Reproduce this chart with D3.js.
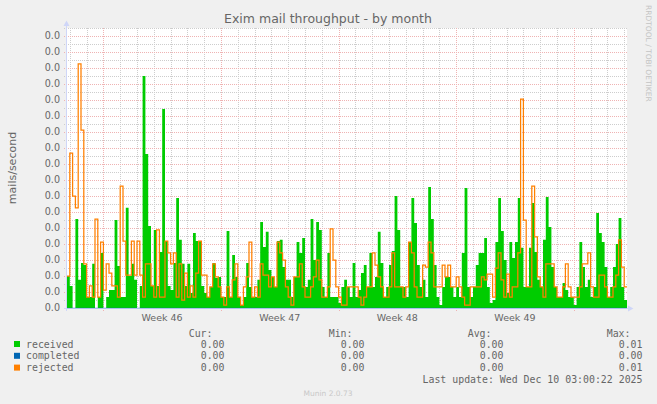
<!DOCTYPE html>
<html><head><meta charset="utf-8">
<script src="https://cdn.jsdelivr.net/npm/d3@7"></script>
<style>
body{margin:0;background:#F0F0F0}
svg{display:block}
</style>
</head><body>
<svg id="chart" width="657" height="404"></svg>
<script>
// ---- data (mails/second), one value per 4-hour bin ----
const startTime = Date.UTC(2025, 10, 7, 20, 8);
const endTime = Date.UTC(2025, 11, 11, 4, 8);
const binMs = 4 * 3600 * 1000;

const received = [
0.00100,0.00069,0,0.00278,0.00088,0.00141,0.00134,0.00034,0.00034,0.00138,
0,0.00034,0.00172,0,0.00034,0.00056,0.00056,0.00275,0.00131,0.00034,
0.00034,0.00313,0.00100,0.00138,0.00088,0,0.00069,0.00725,0.00481,0.00256,
0.00069,0.00244,0.00069,0.00175,0.00622,0.00209,0.00069,0.00056,0.00141,0.00344,
0.00213,0.00138,0.00069,0.00138,0.00047,0.00234,0.00209,0.00209,0.00069,0.00047,
0.00034,0.00066,0.00141,0.00094,0.00097,0.00034,0.00034,0.00241,0.00034,0.00166,
0.00097,0.00034,0.00009,0.00034,0.00141,0.00066,0.00034,0.00034,0.00088,0.00269,
0.00191,0.00238,0.00119,0.00097,0.00066,0.00209,0.00213,0.00128,0.00088,0.00088,
0.00034,0.00097,0.00206,0.00172,0.00219,0.00066,0.00088,0.00278,0.00150,0.00269,
0.00244,0.00066,0.00034,0.00172,0.00034,0.00034,0.00034,0.00016,0.00066,0.00088,
0.00066,0.00034,0.00141,0.00034,0.00056,0.00109,0.00134,0.00066,0.00172,0.00066,
0.00097,0.00238,0.00141,0.00034,0.00066,0.00134,0.00178,0.00350,0.00244,0.00066,
0.00066,0.00034,0.00206,0.00344,0.00266,0.00134,0.00066,0.00088,0.00034,0.00378,
0.00278,0.00134,0.00034,0.00009,0.00066,0.00097,0.00097,0.00066,0.00034,0.00066,
0.00034,0.00172,0.00375,0.00066,0.00034,0.00066,0.00134,0.00172,0.00172,0.00219,
0.00066,0.00016,0.00025,0.00206,0.00344,0.00241,0.00150,0.00047,0.00206,0.00156,
0.00206,0.00344,0.00188,0.00066,0.00066,0.00188,0.00328,0.00175,0.00088,0.00066,
0.00213,0.00347,0.00253,0.00128,0.00066,0.00034,0.00034,0.00078,0.00056,0.00034,
0.00034,0.00009,0.00066,0.00206,0.00128,0.00066,0.00088,0.00034,0.00066,0.00297,
0.00234,0.00206,0.00128,0.00034,0.00066,0.00128,0.00200,0.00281,0.00066,0.00025
];

const completed = [
0,0,0,0,0,0,0,0,0,0,0,0,0,0,0,0,0,0,0,0,
0,0,0,0,0,0,0,0,0,0,0,0,0,0,0,0,0,0,0,0,
0,0,0,0,0,0,0,0,0,0,0,0,0,0,0,0,0,0,0,0,
0,0,0,0,0,0,0,0,0,0,0,0,0,0,0,0,0,0,0,0,
0,0,0,0,0,0,0,0,0,0,0,0,0,0,0,0,0,0,0,0,
0,0,0,0,0,0,0,0,0,0,0,0,0,0,0,0,0,0,0,0,
0,0,0,0,0,0,0,0,0,0,0,0,0,0,0,0,0,0,0,0,
0,0,0,0,0,0,0,0,0,0,0,0,0,0,0,0,0,0,0,0,
0,0,0,0,0,0,0,0,0,0,0,0,0,0,0,0,0,0,0,0,
0,0,0,0,0,0,0,0,0,0,0,0,0,0,0,0,0,0,0,0
];

const rejected = [
0.00100,0.00484,0.00350,0.00313,0.00763,0.00556,0.00138,0.00034,0.00069,0.00034,
0.00278,0.00034,0.00206,0.00056,0.00138,0.00109,0.00069,0.00069,0.00034,0.00381,
0.00209,0.00103,0.00103,0.00209,0.00103,0.00209,0.00103,0.00034,0.00138,0.00138,
0.00069,0.00034,0.00244,0.00034,0.00034,0.00209,0.00172,0.00138,0.00172,0.00034,
0.00138,0.00025,0.00109,0.00034,0.00069,0.00034,0.00109,0.00209,0.00103,0.00103,
0.00034,0.00066,0.00138,0.00097,0.00066,0.00034,0.00009,0.00066,0.00034,0.00088,
0.00138,0.00034,0.00009,0.00066,0.00097,0.00206,0.00034,0.00066,0.00034,0.00138,
0.00103,0.00103,0.00066,0.00097,0.00066,0.00206,0.00172,0.00150,0.00066,0.00034,
0.00009,0.00097,0.00097,0.00138,0.00066,0.00034,0.00034,0.00066,0.00097,0.00150,
0.00088,0.00034,0.00034,0.00066,0.00247,0.00150,0.00066,0.00034,0.00009,0.00009,
0.00066,0.00066,0.00066,0.00066,0.00034,0.00009,0.00034,0.00066,0.00066,0.00172,
0.00134,0.00097,0.00066,0.00034,0.00034,0.00066,0.00172,0.00066,0.00066,0.00066,
0.00034,0.00066,0.00206,0.00172,0.00066,0.00034,0.00034,0.00134,0.00128,0.00206,
0.00172,0.00066,0.00066,0.00066,0.00134,0.00097,0.00134,0.00066,0.00066,0.00097,
0.00066,0.00034,0.00009,0.00009,0.00066,0.00066,0.00066,0.00066,0.00097,0.00088,
0.00106,0.00106,0.00034,0.00125,0.00172,0.00088,0.00034,0.00106,0.00034,0.00066,
0.00066,0.00172,0.00653,0.00275,0.00066,0.00066,0.00381,0.00222,0.00097,0.00066,
0.00034,0.00138,0.00138,0.00138,0.00066,0.00034,0.00034,0.00066,0.00138,0.00066,
0.00034,0.00034,0.00034,0.00066,0.00138,0.00138,0.00172,0.00066,0.00034,0.00034,
0.00103,0.00103,0.00066,0.00034,0.00034,0.00066,0.00103,0.00213,0.00128,0.00066
];

const yTicks = [0,0.0005,0.001,0.0015,0.002,0.0025,0.003,0.0035,0.004,0.0045,0.005,0.0055,0.006,0.0065,0.007,0.0075,0.008,0.0085];
const weekLabels = ["Week 46","Week 47","Week 48","Week 49"];
const weekCenters = [Date.UTC(2025,10,13,12), Date.UTC(2025,10,20,12), Date.UTC(2025,10,27,12), Date.UTC(2025,11,4,12)];

const seriesNames = ["received","completed","rejected"];
const seriesColors = ["#00CC00","#0066B3","#FF8000"];
const statCur = ["0.00","0.00","0.00"];
const statMin = ["0.00","0.00","0.00"];
const statAvg = ["0.00","0.00","0.00"];
const statMax = ["0.01","0.00","0.01"];

// ---- drawing ----
const svg = d3.select("#chart");
const L = 67, R = 627, T = 28, B = 308;
const x = d3.scaleUtc().domain([new Date(startTime), new Date(endTime)]).range([L, R]);
const y = d3.scaleLinear().domain([0, 0.00875]).range([B, T]);

svg.append("rect").attr("width",657).attr("height",404).attr("fill","#F0F0F0");
svg.append("rect").attr("x",L).attr("y",T).attr("width",R-L).attr("height",B-T).attr("fill","#FFFFFF");

const gGrid = svg.append("g").attr("shape-rendering","crispEdges").attr("stroke-dasharray","1,1");
const px = v => Math.round(v) + 0.5;
const minorCol = "#cdcdcd", majorCol = "#efb3b3";
// minor horizontal
const yMinor = yTicks.map(v => v + 0.00025);
gGrid.selectAll(".hm").data(yMinor).join("line")
  .attr("x1",64).attr("x2",R+1).attr("y1",d=>px(y(d))).attr("y2",d=>px(y(d)))
  .attr("stroke",minorCol);
// vertical day lines
const days = x.ticks(d3.utcDay.every(1));
gGrid.selectAll(".vd").data(days.filter(d=>d.getUTCDay()!==1)).join("line")
  .attr("x1",d=>px(x(d))).attr("x2",d=>px(x(d))).attr("y1",T).attr("y2",B)
  .attr("stroke",minorCol);
// major horizontal
gGrid.selectAll(".hM").data(yTicks.slice(1)).join("line")
  .attr("x1",64).attr("x2",R+1).attr("y1",d=>px(y(d))).attr("y2",d=>px(y(d)))
  .attr("stroke",majorCol);
// week lines
gGrid.selectAll(".vw").data(days.filter(d=>d.getUTCDay()===1)).join("line")
  .attr("x1",d=>px(x(d))).attr("x2",d=>px(x(d))).attr("y1",T).attr("y2",B+3)
  .attr("stroke",majorCol);

// series
const pts = arr => {
  const p = arr.map((v,i)=>({t:new Date(startTime + i*binMs), v}));
  p.push({t:new Date(startTime + arr.length*binMs), v: arr[arr.length-1]});
  return p;
};
const area = d3.area().curve(d3.curveStepAfter).x(d=>x(d.t)).y0(y(0)).y1(d=>y(d.v));
svg.append("path").datum(pts(received)).attr("d",area).attr("fill","#00CC00");

// axes
const axisCol = "#CFD6F8";
svg.append("line").attr("x1",L-3).attr("x2",R+2).attr("y1",B+0.5).attr("y2",B+0.5).attr("stroke",axisCol);
svg.append("line").attr("x1",L-0.5).attr("x2",L-0.5).attr("y1",B+3).attr("y2",24).attr("stroke",axisCol);
svg.append("path").attr("d",`M${L-3.5},26 L${L-0.5},20.5 L${L+2.5},26 Z`).attr("fill",axisCol);
svg.append("path").attr("d",`M${R+1},${B-2.5} L${R+6.5},${B+0.5} L${R+1},${B+3.5} Z`).attr("fill",axisCol);

const line = d3.line().curve(d3.curveStepAfter).x(d=>x(d.t)).y(d=>y(d.v));
svg.append("path").datum(pts(completed)).attr("d",line).attr("fill","none")
  .attr("stroke","#0066B3").attr("stroke-opacity",0.35).attr("stroke-width",1);
svg.append("path").datum(pts(rejected)).attr("d",line).attr("fill","none")
  .attr("stroke","#FF8000").attr("stroke-width",1.25);

// y tick labels
svg.append("g").selectAll("text").data(yTicks).join("text")
  .attr("x",60).attr("y",d=>y(d)).attr("dy","0.36em").attr("text-anchor","end")
  .attr("font-family","DejaVu Sans").attr("font-size","9.6px").attr("fill","#666")
  .text(d=>d3.format(".1f")(d));

// x week labels
svg.append("g").selectAll("text").data(weekLabels).join("text")
  .attr("x",(d,i)=>x(new Date(weekCenters[i]))).attr("y",320.8).attr("text-anchor","middle")
  .attr("font-family","DejaVu Sans").attr("font-size","9.5px").attr("fill","#666")
  .text(d=>d);

// title
svg.append("text").attr("x",328).attr("y",23.3).attr("text-anchor","middle")
  .attr("font-family","DejaVu Sans").attr("font-size","12.5px").attr("fill","#666")
  .text("Exim mail throughput - by month");

// y axis title
svg.append("text").attr("transform","translate(15.5,168) rotate(-90)").attr("text-anchor","middle")
  .attr("font-family","DejaVu Sans").attr("font-size","11px").attr("fill","#666")
  .text("mails/second");

// watermark
svg.append("text").attr("transform","translate(645.5,5) rotate(90)")
  .attr("font-family","DejaVu Sans").attr("font-size","7.5px").attr("fill","#c4c4c4")
  .text("RRDTOOL / TOBI OETIKER");

// legend
const mono = "DejaVu Sans Mono";
const leg = svg.append("g").attr("font-family",mono).attr("font-size","9.9px").attr("fill","#666");
const colEnds = [224.5, 364.5, 503.5, 642.5];
const heads = ["Cur:","Min:","Avg:","Max:"];
heads.forEach((h,i)=>leg.append("text").attr("x",colEnds[i]-12).attr("y",336.5).attr("text-anchor","end").text(h));
const stats = [statCur, statMin, statAvg, statMax];
seriesNames.forEach((n,r)=>{
  const by = 347.5 + r*11.8;
  svg.append("rect").attr("x",14).attr("y",by-6.5).attr("width",6).attr("height",6).attr("fill",seriesColors[r]);
  leg.append("text").attr("x",26).attr("y",by).text(n);
  stats.forEach((s,i)=>leg.append("text").attr("x",colEnds[i]).attr("y",by).attr("text-anchor","end").text(s[r]));
});
leg.append("text").attr("x",642.5).attr("y",383).attr("text-anchor","end").text("Last update: Wed Dec 10 03:00:22 2025");

svg.append("text").attr("x",328).attr("y",395.5).attr("text-anchor","middle")
  .attr("font-family","DejaVu Sans").attr("font-size","7.5px").attr("fill","#c8c8c8")
  .text("Munin 2.0.73");
</script>
</body></html>
